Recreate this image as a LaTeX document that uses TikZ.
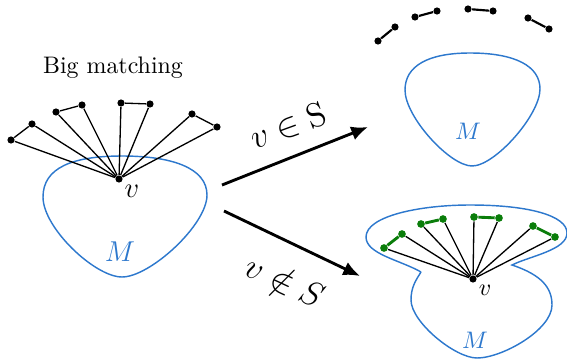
\documentclass[tikz,border=0pt]{standalone}
\usepackage{amsmath,amssymb}
\usepackage{xcolor}
\usetikzlibrary{arrows.meta,positioning,calc}
\definecolor{mblue}{RGB}{45,120,205}
\definecolor{mgreen}{RGB}{10,125,10}

\begin{document}
\begin{tikzpicture}[x=0.0147cm,y=-0.0147cm,>={Latex[length=7pt,width=6pt]},
  pt/.style={circle,fill=black,inner sep=0pt,minimum size=3pt},
  gpt/.style={circle,fill=mgreen,inner sep=0pt,minimum size=3.2pt},
  blob/.style={draw=mblue,line width=0.6pt},
  edge/.style={line width=0.55pt},
  medge/.style={line width=0.9pt},
  gedge/.style={draw=mgreen,line width=1.2pt}]
  \useasboundingbox (0,0) rectangle (567,360);

  % left: the big matching
  \draw[blob] (122,156) .. controls (172,156) and (207,168) .. (207,195)
    .. controls (207,225) and (150,277) .. (122,277)
    .. controls (95,277) and (43,228) .. (43,197)
    .. controls (43,168) and (72,156) .. (122,156);
  \node[font=\normalsize] (title) at (113,68){Big matching};
  \node[pt] (v) at (119,179){};
  \node[pt] (a1) at (11,140){};
  \node[pt] (a2) at (32,124){};
  \node[pt] (a3) at (56,112){};
  \node[pt] (a4) at (82,105){};
  \node[pt] (a5) at (121,103){};
  \node[pt] (a6) at (150,104){};
  \node[pt] (a7) at (192,114){};
  \node[pt] (a8) at (217,127){};
  \foreach \i in {1,...,8} \draw[edge] (v)--(a\i);
  \draw[edge] (a1)--(a2) (a3)--(a4) (a5)--(a6) (a7)--(a8);
  \node[font=\large,anchor=north west,inner sep=1pt] (vl) at (v.south east){$v$};
  \node[mblue,font=\large] (ml) at (120,252){$M$};

  % top right: v in S
  \draw[blob] (470,53) .. controls (515,53) and (540,66) .. (540,89)
    .. controls (540,115) and (495,166) .. (472,166)
    .. controls (450,166) and (405,117) .. (405,90)
    .. controls (405,66) and (428,53) .. (470,53);
  \node[pt] (b1) at (378,41){};
  \node[pt] (b2) at (395,27){};
  \node[pt] (b3) at (415,17){};
  \node[pt] (b4) at (437,11){};
  \node[pt] (b5) at (468,9){};
  \node[pt] (b6) at (493,11){};
  \node[pt] (b7) at (528,18){};
  \node[pt] (b8) at (549,29){};
  \draw[medge] (b1)--(b2) (b3)--(b4) (b5)--(b6) (b7)--(b8);
  \node[mblue] (mt) at (468,131){$M$};

  % bottom right: v not in S
  \draw[blob] (421,272) .. controls (400,260) and (366,254) .. (366,237)
    .. controls (366,216) and (420,205) .. (470,205)
    .. controls (530,205) and (567,216) .. (567,233)
    .. controls (567,250) and (530,256) .. (512,265)
    .. controls (542,275) and (552,288) .. (552,305)
    .. controls (552,330) and (502,358) .. (477,358)
    .. controls (455,358) and (411,322) .. (411,300)
    .. controls (411,287) and (416,280) .. (421,272);
  \node[pt] (w) at (473,279){};
  \node[gpt] (c1) at (384,248){};
  \node[gpt] (c2) at (402,234){};
  \node[gpt] (c3) at (421,224){};
  \node[gpt] (c4) at (443,219){};
  \node[gpt] (c5) at (474,217){};
  \node[gpt] (c6) at (499,218){};
  \node[gpt] (c7) at (533,226){};
  \node[gpt] (c8) at (555,237){};
  \foreach \i in {1,...,8} \draw[edge] (w)--(c\i);
  \draw[gedge] (c1)--(c2) (c3)--(c4) (c5)--(c6) (c7)--(c8);
  \node[anchor=north west,inner sep=1pt] (wl) at (w.south east){$v$};
  \node[mblue] (mb) at (475,340){$M$};

  % the two cases
  \coordinate (s1) at (222,185);
  \coordinate (t1) at (368,127);
  \coordinate (s2) at (224,211);
  \coordinate (t2) at (360,276);
  \draw[->,line width=1.2pt] (s1)--(t1);
  \draw[->,line width=1.2pt] (s2)--(t2);
  \node[font=\Large,rotate=20] (in) at (288,126){$v\in\mathrm{S}$};
  \node[font=\Large,rotate=-25] (notin) at (285,281){$v\notin S$};
\end{tikzpicture}
\end{document}
